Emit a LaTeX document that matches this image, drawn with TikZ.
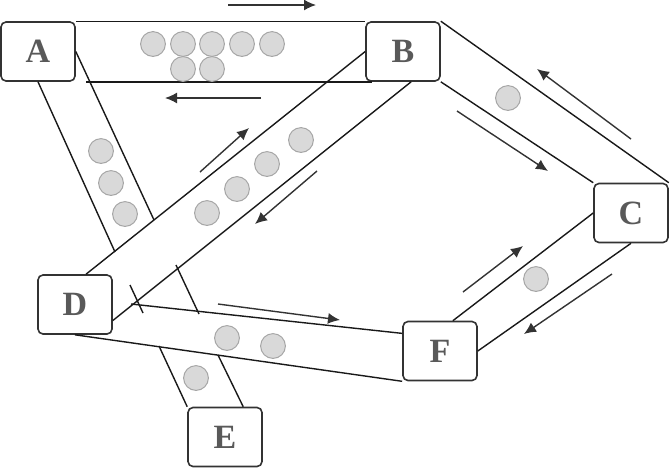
\documentclass[tikz,border=0pt]{standalone}
\usepackage{fontspec}
\setmainfont{Liberation Serif}
\usetikzlibrary{arrows.meta}

\tikzset{every picture/.style={line width=0.7pt}}
\tikzset{
  station/.style={draw=black!80, line width=0.8pt, rounded corners=2.5pt, fill=white,
    minimum width=37pt, minimum height=29.5pt, inner sep=0pt, text=black!65,
    font=\fontsize{17}{18}\selectfont\bfseries},
  wall/.style={black!90},
  flow/.style={black!80, -{Latex[length=6pt,width=5.5pt]}},
  ball/.style={fill=black!15, draw=black!35, line width=0.5pt},
}

\begin{document}
\begin{tikzpicture}[x=0.5pt, y=-0.5pt]
\useasboundingbox (0,0) rectangle (670,468);

\node[station] (A) at (38,51.5) {A};
    \node[station] (B) at (403,51.5) {B};
    \node[station] (C) at (631,213) {C};
    \node[station] (D) at (75,304.5) {D};
    \node[station] (E) at (225,437) {E};
    \node[station] (F) at (440,351) {F};

\coordinate (ab1) at (86,82);   \coordinate (ab2) at (372,82);
    \coordinate (ad1) at (115,252); \coordinate (ad2) at (154,220);
    \coordinate (df1) at (131,304);
    \coordinate (de1) at (159,346); \coordinate (de2) at (218,355);
    \coordinate (de3) at (176,265); \coordinate (de4) at (199,314);
    \coordinate (de5) at (130,285); \coordinate (de6) at (143,313);

\draw[wall] (A.north east) -- (B.north west);
    \draw[wall] (ab1) -- (ab2);
    \draw[wall] (A.south) -- (ad1);
    \draw[wall] (A.east) -- (ad2);
    \draw[wall] (B.west) -- (D.70);
    \draw[wall] (B.-75) -- (D.-23);
    \draw[wall] (B.north east) -- (C.north east);
    \draw[wall] (B.south east) -- (C.north west);
    \draw[wall] (C.west) -- (F.67);
    \draw[wall] (C.south) -- (F.east);
    \draw[wall] (df1) -- (F.155);
    \draw[wall] (D.south) -- (F.south west);
    \draw[wall] (de1) -- (E.north west);
    \draw[wall] (de2) -- (E.59);
    \draw[wall] (de3) -- (de4);
    \draw[wall] (de5) -- (de6);

\foreach \n/\p/\q in {1/{228,5}/{316,5}, 2/{261,98}/{165,98}, 3/{200,172}/{249,128},
        4/{317,171}/{255,224}, 5/{631,139}/{537,69}, 6/{457,111}/{548,171},
        7/{463,292}/{523,246}, 8/{612,274}/{524,334}, 9/{218,304}/{340,320}} {
        \coordinate (f\n s) at (\p);
        \coordinate (f\n e) at (\q);
        \draw[flow] (f\n s) -- (f\n e);
    }

\foreach \x/\y in {153/44, 183/44, 212/44, 242/44, 272/44, 183/69, 212/69,
        101/151, 111/183, 125/214, 301/140, 267/164, 237/189, 207/213,
        508/98, 536/279, 227/338, 273/346, 196/378}
        \draw[ball] (\x,\y) circle[radius=6.2pt];

\end{tikzpicture}
\end{document}
